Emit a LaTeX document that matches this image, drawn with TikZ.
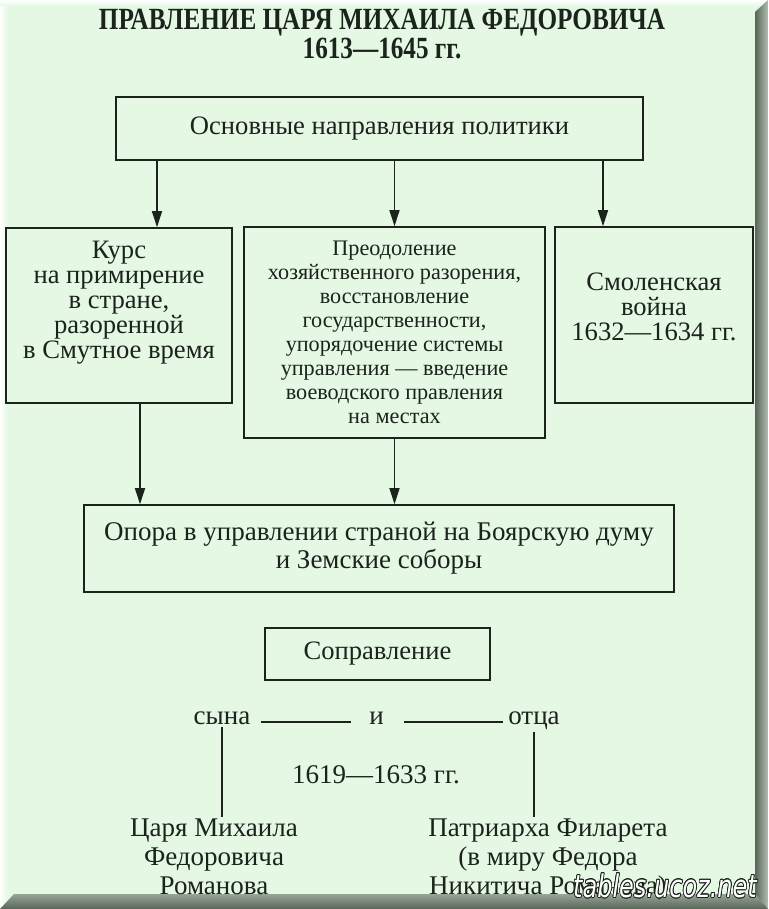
\documentclass[tikz,border=0pt]{standalone}
\usepackage{graphicx}
\usepackage{fontspec}
\setmainfont{Liberation Serif}
\newfontfamily\wmfont{DejaVu Sans}
\usepackage[copies]{contour}
\usetikzlibrary{arrows.meta,positioning}
\definecolor{paper}{RGB}{228,248,228}
\definecolor{ink}{RGB}{28,34,28}
\definecolor{frameDark}{RGB}{88,102,88}
\definecolor{frameLight}{RGB}{178,190,178}

\begin{document}
\begin{tikzpicture}[x=0.5pt,y=-0.5pt,
      box/.style={draw=ink,line width=0.8pt,align=center,text=ink,inner sep=0pt,
                  font=\fontsize{13.3}{12.5}\selectfont},
      small/.style={font=\fontsize{11.1}{12}\selectfont},
      txt/.style={text=ink,align=center,inner sep=1pt,font=\fontsize{13.5}{14.5}\selectfont},
      arr/.style={-{Triangle[length=8pt,width=5pt]},line width=0.7pt,draw=ink},
      ln/.style={line width=0.7pt,draw=ink},
    ]
    \useasboundingbox (0,0) rectangle (768,909);

    % paper and frame
    \fill[paper] (0,0) rectangle (768,909);
    \shade[left color=white,right color=paper] (0,0) rectangle (8,909);
    \shade[top color=white,bottom color=paper] (0,0) rectangle (768,6);
    \shade[left color=frameDark,right color=frameLight]
          (755,12) -- (768,0) -- (768,909) -- (755,894) -- cycle;
    \shade[top color=frameLight!70!frameDark,bottom color=frameDark]
          (0,909) -- (14,894) -- (755,894) -- (768,909) -- cycle;

    % title
    \node[text=ink,align=center,font=\bfseries\fontsize{14}{14.5}\selectfont] (title) at (382,34)
          {\scalebox{0.9}[1.1]{ПРАВЛЕНИЕ ЦАРЯ МИХАИЛА ФЕДОРОВИЧА}\\
           \scalebox{0.9}[1.1]{1613—1645 гг.}};

    % boxes
    \node[box,minimum width=263.5pt,minimum height=31.5pt] (napr) at (379.5,128.5)
          {Основные направления политики};
    \node[box,minimum width=113pt,minimum height=87.5pt] (kurs) at (119,315.5)
          {Курс\\на примирение\\в стране,\\разоренной\\в Смутное время\\[3.5pt]\mbox{}};
    \node[box,small,minimum width=150.5pt,minimum height=105.5pt] (preod) at (394.5,332.5)
          {Преодоление\\хозяйственного разорения,\\восстановление\\государственности,\\
           упорядочение системы\\управления — введение\\воеводского правления\\на местах};
    \node[box,minimum width=99pt,minimum height=88pt] (smol) at (654,315)
          {Смоленская\\война\\1632—1634 гг.\\[-4pt]\mbox{}};
    \node[box,font=\fontsize{13.5}{14}\selectfont,minimum width=295pt,minimum height=43.5pt] (opora) at (379,548.5)
          {Опора в управлении страной на Боярскую думу\\и Земские соборы};
    \node[box,minimum width=112.5pt,minimum height=26pt] (sopr) at (377.5,654)
          {Соправление};

    % arrows
    \draw[arr] ([xshift=19pt]kurs.north |- napr.south) -- ([xshift=19pt]kurs.north);
    \draw[arr] (preod.north |- napr.south) -- (preod.north);
    \draw[arr] ([xshift=-25.5pt]smol.north |- napr.south) -- ([xshift=-25.5pt]smol.north);
    \draw[arr] ([xshift=10.5pt]kurs.south) -- ([xshift=10.5pt]kurs.south |- opora.north);
    \draw[arr] (preod.south) -- (preod.south |- opora.north);

    % co-rule
    \node[txt,anchor=base] (syna) at (222,724) {сына};
    \node[txt,anchor=base] (i) at (376.5,724) {и};
    \node[txt,anchor=base] (otca) at (534,724) {отца};
    \draw[ln] ([xshift=4pt,yshift=1pt]syna.base east) -- ([xshift=-8pt,yshift=1pt]i.base west);
    \draw[ln] ([xshift=9pt,yshift=1pt]i.base east) -- ([xshift=-1.5pt,yshift=1pt]otca.base west);
    \node[txt,anchor=base] (years) at (376,783) {1619—1633 гг.};
    \node[txt] (tsar) at (214,857) {Царя Михаила\\Федоровича\\Романова};
    \node[txt] (patr) at (548,860) {Патриарха Филарета\\(в миру Федора\\Никитича Романова)};
    \draw[ln] (syna.south) -- (syna.south |- tsar.north);
    \draw[ln] (otca.south) -- (otca.south |- patr.north);

    % watermark
    \node[inner sep=0pt,font=\wmfont\itshape\fontsize{12}{12}\selectfont] (mark) at (665,886)
          {\scalebox{1}[1.3]{\contour{ink}{\color{white}tables.ucoz.net}}};
  \end{tikzpicture}
\end{document}
